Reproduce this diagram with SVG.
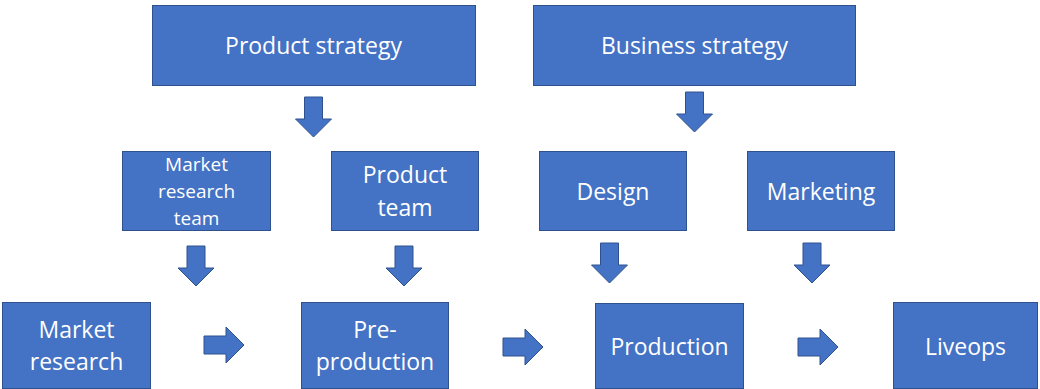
<svg xmlns="http://www.w3.org/2000/svg" xmlns:xlink="http://www.w3.org/1999/xlink" width="1040" height="389" viewBox="0 0 1040 389">
  <style>
    .box { fill: #4472C4; stroke: #2F528F; stroke-width: 1; }
    .arrow { fill: #4472C4; stroke: #2F528F; stroke-width: 1; }
    .lbl { font-family: "Open Sans", "Liberation Sans", sans-serif; font-size: 23px; fill: #FFFFFF; text-anchor: middle; }
    .sm { font-size: 19px; }
  </style>
  <defs>
    <!-- block arrow pointing down, origin at the tip -->
    <path id="blockDown" class="arrow" d="M -9 -40 L 9 -40 L 9 -18 L 18 -18 L 0 0 L -18 -18 L -9 -18 Z"/>
  </defs>

  <rect width="1040" height="389" fill="#FFFFFF"/>

  <g id="connectors">
    <use xlink:href="#blockDown" transform="translate(313.5,137)"/>
    <use xlink:href="#blockDown" transform="translate(694.5,132)"/>
    <use xlink:href="#blockDown" transform="translate(196,286)"/>
    <use xlink:href="#blockDown" transform="translate(404,286)"/>
    <use xlink:href="#blockDown" transform="translate(609.5,283)"/>
    <use xlink:href="#blockDown" transform="translate(812,283)"/>
    <use xlink:href="#blockDown" transform="translate(244,345) rotate(-90)"/>
    <use xlink:href="#blockDown" transform="translate(543,347) rotate(-90)"/>
    <use xlink:href="#blockDown" transform="translate(838,347) rotate(-90)"/>
  </g>

  <g id="product-strategy">
    <rect class="box" x="152.5" y="5.5" width="323" height="80"/>
    <text class="lbl" x="313.5" y="54">Product strategy</text>
  </g>

  <g id="business-strategy">
    <rect class="box" x="533.5" y="5.5" width="322" height="80"/>
    <text class="lbl" x="694.5" y="54">Business strategy</text>
  </g>

  <g id="market-research-team">
    <rect class="box" x="122.5" y="151.5" width="148" height="79"/>
    <text class="lbl sm" x="196.5" y="171">Market</text>
    <text class="lbl sm" x="196.5" y="198">research</text>
    <text class="lbl sm" x="196.5" y="225">team</text>
  </g>

  <g id="product-team">
    <rect class="box" x="331.5" y="151.5" width="147" height="79"/>
    <text class="lbl" x="405" y="183">Product</text>
    <text class="lbl" x="405" y="216">team</text>
  </g>

  <g id="design">
    <rect class="box" x="539.5" y="151.5" width="147" height="79"/>
    <text class="lbl" x="613" y="200">Design</text>
  </g>

  <g id="marketing">
    <rect class="box" x="747.5" y="151.5" width="147" height="79"/>
    <text class="lbl" x="821" y="200">Marketing</text>
  </g>

  <g id="market-research">
    <rect class="box" x="2.5" y="302.5" width="148" height="86"/>
    <text class="lbl" x="76.5" y="338">Market</text>
    <text class="lbl" x="76.5" y="370">research</text>
  </g>

  <g id="pre-production">
    <rect class="box" x="301.5" y="302.5" width="147" height="86"/>
    <text class="lbl" x="375" y="338">Pre-</text>
    <text class="lbl" x="375" y="370">production</text>
  </g>

  <g id="production">
    <rect class="box" x="595.5" y="303.5" width="148" height="85"/>
    <text class="lbl" x="669.5" y="355">Production</text>
  </g>

  <g id="liveops">
    <rect class="box" x="893.5" y="302.5" width="144" height="86"/>
    <text class="lbl" x="965.5" y="355">Liveops</text>
  </g>
</svg>
